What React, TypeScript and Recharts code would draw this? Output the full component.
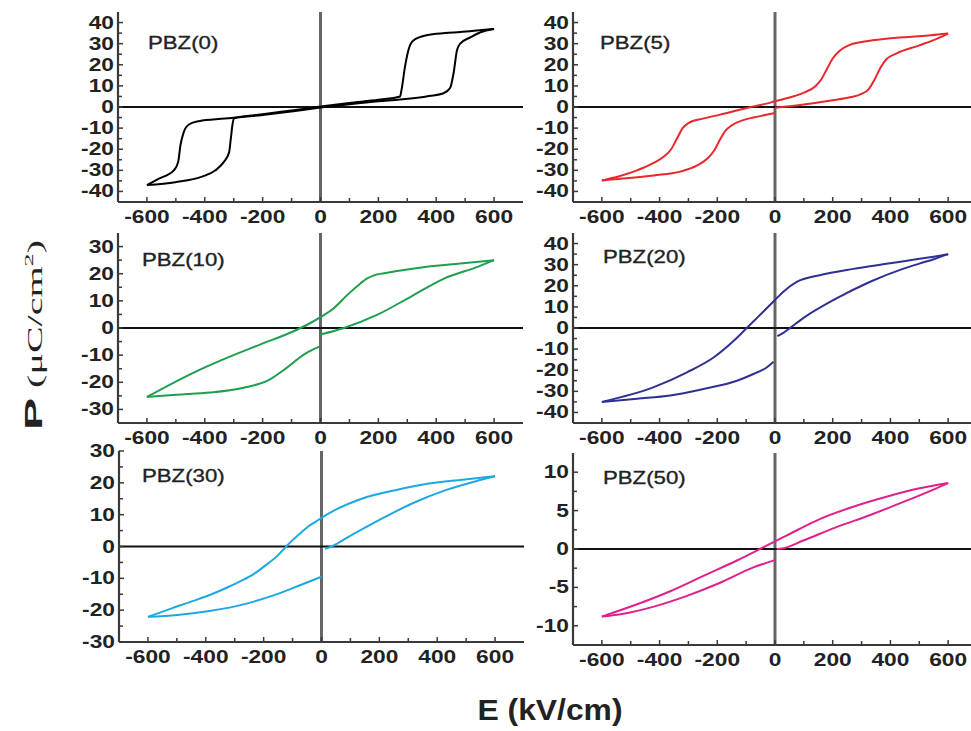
import React from 'react';
import { LineChart, Line, XAxis, YAxis, ReferenceLine } from 'recharts';

// ---------- tick values ----------
const E_TICKS = [-600, -500, -400, -300, -200, -100, 0, 100, 200, 300, 400, 500, 600];
const Y_TICKS_40 = [-40, -35, -30, -25, -20, -15, -10, -5, 0, 5, 10, 15, 20, 25, 30, 35, 40];
const Y_TICKS_30 = [-30, -25, -20, -15, -10, -5, 0, 5, 10, 15, 20, 25, 30];
const Y_TICKS_10 = [-10, -7.5, -5, -2.5, 0, 2.5, 5, 7.5, 10];

// ---------- PBZ(0) ----------
const pbz0UpperE = [-600, -560, -507, -492, -484, -473, -455, -420, -330, -200, -100, 0, 100, 200, 275, 280, 292, 304, 321, 367, 430, 483, 540, 600];
const pbz0UpperP = [-37, -34, -30, -26, -18, -12, -8.3, -6.7, -5.5, -3.4, -1.6, 0.2, 1.9, 3.4, 5, 8, 19, 27, 31.5, 34, 35, 35.5, 36.2, 37];
const pbz0LowerE = [-600, -502, -409, -363, -334, -316, -310, -305, -299, -200, -100, 0, 100, 200, 275, 367, 425, 448, 460, 472, 483, 518, 553, 600];
const pbz0LowerP = [-37, -35.6, -33, -30, -26, -21.5, -15, -9, -5.3, -3.8, -2.1, -0.3, 1.3, 2.7, 3.5, 5, 6.5, 9, 16, 27, 30, 33, 35.4, 37];

// ---------- PBZ(5) ----------
const pbz5UpperE = [-600, -540, -478, -420, -385, -360, -340, -320, -300, -250, -190, -120, -75, -30, 0, 50, 100, 140, 160, 180, 200, 225, 255, 300, 370, 460, 540, 600];
const pbz5UpperP = [-34.8, -32.8, -30, -26.5, -23.5, -20, -15, -10, -7.6, -5.5, -3.6, -1.2, 0.3, 1.6, 2.7, 4.5, 6.8, 9.8, 13, 18, 23, 26.8, 29.2, 30.8, 32.1, 33.2, 34, 34.8];
const pbz5LowerLeftE = [-600, -535, -420, -328, -271, -235, -210, -190, -170, -150, -110, -75, -30, 0];
const pbz5LowerLeftP = [-34.8, -34, -32.4, -30.6, -27.8, -24.5, -20.5, -15.3, -11, -8.7, -6.2, -5, -3.7, -2.8];
const pbz5LowerRightE = [0, 100, 200, 260, 300, 325, 345, 365, 385, 420, 500, 560, 600];
const pbz5LowerRightP = [-0.3, 1.2, 3.2, 4.6, 6.2, 8.5, 13, 18.5, 22.5, 25.3, 29.2, 32.3, 34.8];

// ---------- PBZ(10) ----------
const pbz10UpperE = [-600, -440, -324, -209, -93, -46, 0, 46, 93, 139, 160, 185, 220, 255, 367, 483, 600];
const pbz10UpperP = [-25.4, -16.5, -11, -6.1, -1.2, 1.2, 4, 7.3, 12.2, 16.5, 18.2, 19.4, 20.2, 20.8, 22.6, 23.8, 25];
const pbz10LowerLeftE = [-600, -498, -382, -266, -185, -116, -58, 0];
const pbz10LowerLeftP = [-25.4, -24.6, -23.8, -22, -19.5, -14.6, -9.8, -6.7];
const pbz10LowerRightE = [0, 81, 197, 313, 429, 545, 600];
const pbz10LowerRightP = [-2.4, 0, 4.9, 11.6, 18.3, 22.6, 25];

// ---------- PBZ(20) ----------
const pbz20UpperE = [-600, -420, -305, -213, -144, -98, -75, -40, 0, 29, 75, 155, 271, 386, 501, 550, 600];
const pbz20UpperP = [-35, -28, -21, -14, -6.2, 0, 3.1, 7.8, 13.3, 17.2, 21.8, 25, 28, 30.4, 32.8, 33.8, 35];
const pbz20LowerLeftE = [-600, -478, -363, -248, -132, -75, -29, -5];
const pbz20LowerLeftP = [-35, -33.5, -32, -28.9, -25, -21.8, -18.7, -16];
const pbz20LowerRightE = [8, 29, 52, 98, 213, 328, 443, 500, 550, 600];
const pbz20LowerRightP = [-3.9, -2.3, 0, 4.7, 14, 21.8, 28, 30.5, 32.6, 35];

// ---------- PBZ(30) ----------
const pbz30UpperE = [-600, -520, -440, -380, -324, -280, -232, -190, -150, -122, -100, -75, -46, -20, 0, 46, 139, 255, 371, 487, 600];
const pbz30UpperP = [-22.1, -19.5, -17, -15, -12.8, -10.9, -8.5, -5.7, -2.7, 0, 2.0, 4.0, 6.3, 7.8, 9, 11.4, 15, 17.7, 19.8, 21, 22.1];
const pbz30LowerLeftE = [-600, -498, -382, -266, -151, -70, 0];
const pbz30LowerLeftP = [-22.1, -21.5, -20.2, -18.1, -14.9, -12, -9.5];
const pbz30LowerRightE = [12, 35, 81, 197, 313, 429, 545, 600];
const pbz30LowerRightP = [-0.7, 0, 2.4, 8.2, 13.5, 17.7, 20.8, 22.1];

// ---------- PBZ(50) ----------
const pbz50UpperE = [-600, -478, -363, -248, -132, -52, 0, 40, 155, 271, 386, 501, 600];
const pbz50UpperP = [-8.8, -7.2, -5.5, -3.5, -1.5, 0, 1.0, 1.75, 3.9, 5.5, 6.8, 7.9, 8.6];
const pbz50LowerLeftE = [-600, -535, -420, -305, -190, -75, 0];
const pbz50LowerLeftP = [-8.8, -8.5, -7.5, -6.1, -4.4, -2.4, -1.45];
const pbz50LowerRightE = [6, 29, 98, 213, 328, 443, 559, 600];
const pbz50LowerRightP = [0, 0.1, 1.1, 2.85, 4.4, 6.1, 7.9, 8.6];

const zip = (E: number[], P: number[]) => E.map((e, i) => ({ E: e, P: P[i] }));

const FRAME = '#3a3a3a';
const TXT = '#222';
const SANS = 'Liberation Sans, Arial, Helvetica, sans-serif';
const SERIF = 'Liberation Serif, Times New Roman, serif';

type PanelCfg = {
  name: string;
  color: string;
  yDomain: [number, number];
  yTicks: number[];
  labelStep: number;
  branches: { E: number[]; P: number[] }[];
  plot: { L: number; R: number; T: number; B: number };
  title: { dx: number; dy: number };
};

const panels: PanelCfg[] = [
  {
    name: 'PBZ(0)', color: '#000000', yDomain: [-45, 45], yTicks: Y_TICKS_40, labelStep: 10,
    branches: [{ E: pbz0UpperE, P: pbz0UpperP }, { E: pbz0LowerE, P: pbz0LowerP }],
    plot: { L: 118, R: 523, T: 12, B: 202 }, title: { dx: 30, dy: 30 },
  },
  {
    name: 'PBZ(5)', color: '#e8282c', yDomain: [-45, 45], yTicks: Y_TICKS_40, labelStep: 10,
    branches: [{ E: pbz5UpperE, P: pbz5UpperP }, { E: pbz5LowerLeftE, P: pbz5LowerLeftP }, { E: pbz5LowerRightE, P: pbz5LowerRightP }],
    plot: { L: 573, R: 977, T: 12, B: 202 }, title: { dx: 27, dy: 30 },
  },
  {
    name: 'PBZ(10)', color: '#1f9e4f', yDomain: [-35, 35], yTicks: Y_TICKS_30, labelStep: 10,
    branches: [{ E: pbz10UpperE, P: pbz10UpperP }, { E: pbz10LowerLeftE, P: pbz10LowerLeftP }, { E: pbz10LowerRightE, P: pbz10LowerRightP }],
    plot: { L: 118, R: 523, T: 233, B: 423 }, title: { dx: 24, dy: 26 },
  },
  {
    name: 'PBZ(20)', color: '#2e3192', yDomain: [-45, 45], yTicks: Y_TICKS_40, labelStep: 10,
    branches: [{ E: pbz20UpperE, P: pbz20UpperP }, { E: pbz20LowerLeftE, P: pbz20LowerLeftP }, { E: pbz20LowerRightE, P: pbz20LowerRightP }],
    plot: { L: 573, R: 977, T: 233, B: 423 }, title: { dx: 30, dy: 23 },
  },
  {
    name: 'PBZ(30)', color: '#1ea8e2', yDomain: [-30, 30], yTicks: Y_TICKS_30, labelStep: 10,
    branches: [{ E: pbz30UpperE, P: pbz30UpperP }, { E: pbz30LowerLeftE, P: pbz30LowerLeftP }, { E: pbz30LowerRightE, P: pbz30LowerRightP }],
    plot: { L: 119, R: 524, T: 451, B: 642 }, title: { dx: 23, dy: 24 },
  },
  {
    name: 'PBZ(50)', color: '#e0218c', yDomain: [-12.5, 12.5], yTicks: Y_TICKS_10, labelStep: 5,
    branches: [{ E: pbz50UpperE, P: pbz50UpperP }, { E: pbz50LowerLeftE, P: pbz50LowerLeftP }, { E: pbz50LowerRightE, P: pbz50LowerRightP }],
    plot: { L: 573, R: 977, T: 453, B: 645 }, title: { dx: 30, dy: 24 },
  },
];

const XTick = (props: any) => {
  const { x, y, payload } = props;
  const v = payload.value;
  const major = v % 200 === 0;
  return (
    <g>
      <line x1={x} x2={x} y1={y} y2={y - (major ? 5 : 4)} stroke={FRAME} strokeWidth={1.5} />
      {major && (
        <text
          transform={`translate(${x},${y + 15}) scale(1.3,1)`}
          textAnchor="middle"
          dominantBaseline="central"
          fontSize={17.5}
          fontWeight="bold"
          fontFamily={SANS}
          fill={TXT}
        >
          {v}
        </text>
      )}
    </g>
  );
};

const YTick = (props: any) => {
  const { x, y, payload, step } = props;
  const v = payload.value;
  const major = Math.abs(v % step) < 1e-9;
  return (
    <g>
      <line x1={x} x2={x + (major ? 5 : 4)} y1={y} y2={y} stroke={FRAME} strokeWidth={1.5} />
      {major && (
        <text
          transform={`translate(${x - 4},${y}) scale(1.3,1)`}
          textAnchor="end"
          dominantBaseline="central"
          fontSize={17.5}
          fontWeight="bold"
          fontFamily={SANS}
          fill={TXT}
        >
          {v}
        </text>
      )}
    </g>
  );
};

const ML = 50, MT = 12, MR = 4, MB = 30;

function Panel({ cfg }: { cfg: PanelCfg }) {
  const { L, R, T, B } = cfg.plot;
  const w = R - L + ML + MR;
  const h = B - T + MT + MB;
  const frame = { stroke: FRAME, strokeWidth: 2.2 };
  return (
    <div style={{ position: 'absolute', left: L - ML, top: T - MT, width: w, height: h }}>
      <LineChart width={w} height={h} margin={{ top: MT, right: MR, bottom: 0, left: 0 }}>
        <XAxis
          dataKey="E" type="number" domain={[-700, 700]} ticks={E_TICKS} interval={0}
          tickSize={0} tickMargin={0} tick={<XTick />} axisLine={frame} height={MB} allowDataOverflow
        />
        <XAxis xAxisId="top" orientation="top" type="number" domain={[-700, 700]} tick={false} tickLine={false} height={0} axisLine={frame} />
        <YAxis
          type="number" domain={cfg.yDomain} ticks={cfg.yTicks} interval={0}
          tickSize={0} tickMargin={0} tick={<YTick step={cfg.labelStep} />} axisLine={frame} width={ML} allowDataOverflow
        />
        <YAxis yAxisId="right" orientation="right" type="number" domain={cfg.yDomain} tick={false} tickLine={false} width={0} axisLine={frame} />
        <ReferenceLine x={0} stroke="#666" strokeWidth={3} />
        <ReferenceLine y={0} stroke="#111" strokeWidth={1.8} />
        {cfg.branches.map((b, i) => (
          <Line
            key={i}
            data={zip(b.E, b.P)}
            dataKey="P"
            type="monotone"
            stroke={cfg.color}
            strokeWidth={2}
            dot={false}
            activeDot={false}
            isAnimationActive={false}
          />
        ))}
      </LineChart>
    </div>
  );
}

export default function App() {
  return (
    <div style={{ position: 'absolute', left: 0, top: 0, width: 971, height: 731, overflow: 'hidden', background: '#fff' }}>
      <svg width={971} height={731} style={{ position: 'absolute', left: 0, top: 0 }}>
        {panels.map((p) => (
          <text
            key={p.name}
            transform={`translate(${p.plot.L + p.title.dx},${p.plot.T + p.title.dy}) scale(1.17,1)`}
            dominantBaseline="central"
            fontSize={19}
            fontFamily={SANS}
            fill={TXT}
            stroke={TXT}
            strokeWidth={0.35}
          >
            {p.name}
          </text>
        ))}
        <text x={550} y={720} textAnchor="middle" fontSize={30} fontWeight="bold" fontFamily={SANS} fill={TXT} textLength={145} lengthAdjust="spacingAndGlyphs">
          E (kV/cm)
        </text>
        <text transform="translate(42,335) rotate(-90)" textAnchor="middle" fontSize={20} fill={TXT} textLength={190} lengthAdjust="spacingAndGlyphs">
          <tspan fontWeight="bold" fontFamily={SANS} fontSize={24}>P</tspan>
          <tspan fontFamily={SERIF}>{'  (μC/cm'}</tspan>
          <tspan fontFamily={SERIF} fontSize={13} dy={-9}>2</tspan>
          <tspan fontFamily={SERIF} dy={9}>)</tspan>
        </text>
      </svg>
      {panels.map((p) => (
        <Panel key={p.name} cfg={p} />
      ))}
    </div>
  );
}
